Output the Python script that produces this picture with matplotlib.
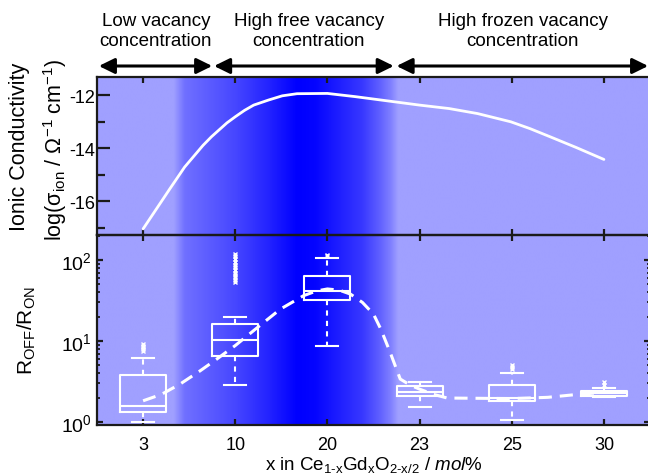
import numpy as np
import matplotlib
matplotlib.use('Agg')
import matplotlib.pyplot as plt
from matplotlib.colors import LinearSegmentedColormap
from matplotlib.ticker import FixedLocator, LogLocator, NullFormatter
import matplotlib.transforms as mtransforms

plt.rcParams['font.family'] = ['Liberation Sans', 'DejaVu Sans']
plt.rcParams['mathtext.fontset'] = 'custom'
plt.rcParams['mathtext.rm'] = 'Liberation Sans'
plt.rcParams['mathtext.it'] = 'Liberation Sans:italic'
plt.rcParams['mathtext.bf'] = 'Liberation Sans:bold'
plt.rcParams['axes.unicode_minus'] = False

# ---------------- data ----------------
categories = ['3', '10', '20', '23', '25', '30']

# ionic conductivity curve (category index, log sigma)
cond_pos = [1.0, 1.29, 1.45, 1.65, 1.74, 1.82, 1.91, 2.0, 2.1, 2.2, 2.36, 2.51,
            2.67, 3.0, 3.3, 3.65, 4.0, 4.32, 4.63, 4.99, 5.2, 5.42, 5.7, 6.0]
cond_val = [-17.05, -15.54, -14.72, -13.90, -13.58, -13.33, -13.05, -12.82,
            -12.58, -12.38, -12.19, -12.03, -11.95, -11.94, -12.06, -12.22,
            -12.38, -12.51, -12.70, -13.01, -13.27, -13.58, -13.98, -14.43]

# box plot statistics of R_OFF/R_ON
box_med = [1.60, 10.3, 42.0, 2.33, 2.00, 2.27]
box_q1 = [1.35, 6.6, 32.3, 2.08, 1.80, 2.12]
box_q3 = [3.84, 16.2, 62.8, 2.81, 2.89, 2.45]
whisk_lo = [1.00, 2.9, 8.75, 1.52, 1.06, 2.06]
whisk_hi = [6.1, 19.9, 106.0, 3.15, 4.0, 2.63]
outliers = [[7.6, 8.0, 8.4, 8.8, 9.1],
            [53, 57, 61, 66, 70, 75, 81, 88, 95, 103, 112, 120],
            [112, 117],
            [],
            [4.5, 4.8, 5.1],
            [2.9, 3.1]]

# dashed trend line of R_OFF/R_ON
trend_pos = [1.0, 1.2, 1.4, 1.62, 1.8, 2.0, 2.25, 2.49, 2.74, 2.88, 3.0, 3.13,
             3.25, 3.38, 3.5, 3.58, 3.68, 3.79, 3.9, 4.0, 4.15, 4.3, 5.0, 5.39,
             5.67, 6.0]
trend_val = [1.83, 2.2, 2.94, 4.3, 6.0, 8.8, 15.0, 24.8, 36.3, 41.5, 44.0, 42.5,
             38.0, 30.0, 21.5, 14.0, 7.3, 3.4, 2.85, 2.55, 2.2, 1.98, 1.95, 2.02,
             2.17, 2.33]

# regimes
region_labels = ['Low vacancy\nconcentration', 'High free vacancy\nconcentration',
                 'High frozen vacancy\nconcentration']
region_start = [0.52, 1.77, 3.75]
region_end = [1.75, 3.72, 6.48]
region_text_x = [1.14, 2.80, 5.12]

# background shading profile (category index, darkness 0..1)
bg_pos = [0.5, 1.33, 1.45, 2.0, 2.36, 2.67, 2.87, 3.06, 3.38, 3.57, 3.69, 3.77, 6.5]
bg_t = [0.0, 0.0, 0.3, 0.56, 0.78, 1.0, 0.97, 0.85, 0.65, 0.4, 0.2, 0.0, 0.0]

# ---------------- figure ----------------
W, H = 648, 477
fig = plt.figure(figsize=(W / 100, H / 100), dpi=100)

left = 97 / W
right = 650 / W
top1 = 1 - 78 / H
mid = 1 - 236 / H
bot2 = 1 - 426 / H

light = (160 / 255, 160 / 255, 1.0)
dark = (0.0, 0.0, 1.0)
cmap = LinearSegmentedColormap.from_list('bg', [light, dark])

# background gradient axes spanning both panels
axbg = fig.add_axes([left, bot2, right - left, top1 - bot2], zorder=0)
grid = np.linspace(0.5, 6.5, 1200)
tt = np.interp(grid, bg_pos, bg_t)
axbg.imshow(tt[None, :], cmap=cmap, vmin=0, vmax=1, extent=(0.5, 6.5, 0, 1),
            aspect='auto', interpolation='bilinear')
axbg.set_xlim(0.5, 6.5)
axbg.set_ylim(0, 1)
axbg.axis('off')

spine_c = '#1a1a1a'

ax1 = fig.add_axes([left, mid, right - left, top1 - mid], zorder=2)
ax2 = fig.add_axes([left, bot2, right - left, mid - bot2], zorder=2)
for ax in (ax1, ax2):
    ax.patch.set_alpha(0)
    for s in ax.spines.values():
        s.set_linewidth(1.6)
        s.set_color(spine_c)

# top panel
ax1.plot(cond_pos, cond_val, color='white', lw=2.0, solid_capstyle='round',
         solid_joinstyle='round')
ax1.set_xlim(0.5, 6.5)
ax1.set_ylim(-17.28, -11.32)
ax1.yaxis.set_major_locator(FixedLocator([-16, -14, -12]))
ax1.yaxis.set_minor_locator(FixedLocator([-17, -15, -13]))
ax1.set_xticks(range(1, 7))
ax1.tick_params(axis='y', which='major', direction='in', length=9, width=1.6,
                left=True, right=False, labelsize=13, pad=1.5, color=spine_c)
ax1.tick_params(axis='y', which='minor', direction='in', length=5.5, width=1.6,
                left=True, right=False, color=spine_c)
ax1.tick_params(axis='x', direction='in', length=4.5, width=1.6, top=True,
                bottom=True, labelbottom=False, color=spine_c)

# bottom panel
stats = []
for i in range(len(categories)):
    stats.append(dict(med=box_med[i], q1=box_q1[i], q3=box_q3[i],
                      whislo=whisk_lo[i], whishi=whisk_hi[i],
                      fliers=np.array(outliers[i], dtype=float)))
ax2.set_yscale('log')
ax2.bxp(stats, positions=range(1, 7), widths=0.5, capwidths=0.24,
        showfliers=True,
        boxprops=dict(color='white', lw=1.5),
        medianprops=dict(color='white', lw=1.5),
        whiskerprops=dict(color='white', lw=1.5, ls=(0, (2.5, 2.5))),
        capprops=dict(color='white', lw=1.5),
        flierprops=dict(marker='x', markeredgecolor='white', markersize=3.5,
                        mew=1.0, ls='none'))
ax2.plot(trend_pos, trend_val, color='white', lw=2.2, dashes=(4.3, 2.6),
         dash_joinstyle='round')
ax2.set_xlim(0.5, 6.5)
ax2.set_ylim(0.92, 204)
ax2.set_yticks([1, 10, 100])
ax2.set_yticklabels(['$10^{0}$', '$10^{1}$', '$10^{2}$'])
ax2.yaxis.set_minor_locator(LogLocator(base=10, subs=np.arange(2, 10)))
ax2.yaxis.set_minor_formatter(NullFormatter())
ax2.set_xticks(range(1, 7))
ax2.set_xticklabels(categories)
ax2.tick_params(axis='y', which='major', direction='in', length=4.5, width=1.6,
                left=True, right=True, labelsize=14, pad=3.5, color=spine_c)
ax2.tick_params(axis='y', which='minor', direction='in', length=2.5, width=1.3,
                left=True, right=True, color=spine_c)
ax2.tick_params(axis='x', direction='in', length=4.5, width=1.6, top=True,
                bottom=True, labelsize=13, pad=8, color=spine_c)

# x label
ax2.set_xlabel(r'x in Ce$_{\mathrm{1\text{-}x}}$Gd$_{\mathrm{x}}$O$_{\mathrm{2\text{-}x/2}}$ $\mathit{/\ mol\%}$',
               fontsize=13.5, labelpad=1)

# y labels
fig.text(20 / W, 1 - 147 / H, 'Ionic Conductivity', rotation=90, ha='center',
         va='center', fontsize=15.5)
fig.text(55 / W, 1 - 150 / H,
         r'log(σ$_{\mathrm{ion}}$ / Ω$^{\mathrm{-1}}$ cm$^{\mathrm{-1}}$)',
         rotation=90, ha='center', va='center', fontsize=15.5)
fig.text(27 / W, 1 - 331 / H, r'R$_{\mathrm{OFF}}$/R$_{\mathrm{ON}}$',
         rotation=90, ha='center', va='center', fontsize=15)

# arrows and regime text
trans = mtransforms.blended_transform_factory(ax1.transData, ax1.transAxes)
y_arrow = 1 + (78 - 67) / 158
y_text = 1 + (78 - 31.5) / 158
for s, e, lab, tx in zip(region_start, region_end, region_labels, region_text_x):
    ax1.annotate('', xy=(e, y_arrow), xytext=(s, y_arrow), xycoords=trans,
                 textcoords=trans, annotation_clip=False,
                 arrowprops=dict(arrowstyle='<|-|>,head_length=0.63,head_width=0.31',
                                 lw=2.2, color='black', mutation_scale=15,
                                 shrinkA=0, shrinkB=0))
    ax1.text(tx, y_text, lab, transform=trans, ha='center', va='center',
             fontsize=13.5, linespacing=1.3, clip_on=False)

fig.savefig('out.png', dpi=100)
